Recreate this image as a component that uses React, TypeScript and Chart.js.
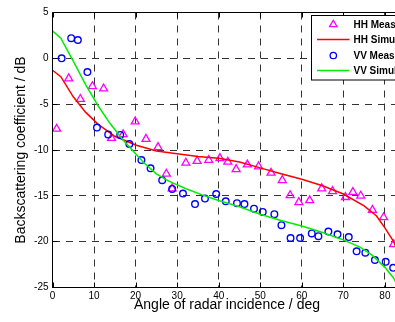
import { useEffect, useRef } from "react";
import { Chart, registerables } from "chart.js";

Chart.register(...registerables);

// ---- data ----
const hhMeasAngle = [1.0, 3.9, 6.7, 9.6, 12.3, 14.2, 17.0, 19.9, 22.5, 25.4, 27.4, 28.8, 32.1, 34.8, 37.6, 40.3, 42.2, 44.2, 46.9, 49.6, 52.6, 55.3, 57.2, 59.3, 61.9, 64.8, 67.4, 70.5, 72.3, 74.2, 77.0, 79.7, 82.1];
const hhMeasValue = [-7.7, -2.2, -4.45, -3.05, -3.3, -8.7, -8.3, -6.9, -8.8, -9.7, -12.6, -14.2, -11.4, -11.2, -11.1, -10.9, -11.3, -12.1, -11.6, -11.8, -12.5, -13.3, -14.95, -15.7, -15.5, -14.2, -14.5, -15.15, -14.6, -15.0, -16.55, -17.35, -20.3];

const hhSimAngle = [0, 2, 5, 8, 11, 15, 20, 25, 30, 35, 40, 45, 50, 55, 60, 65, 70, 75, 78, 80, 82, 84];
const hhSimValue = [-1.3, -2.0, -4.2, -5.9, -7.2, -8.5, -9.45, -10.1, -10.4, -10.7, -10.9, -11.3, -11.95, -12.6, -13.2, -13.9, -14.8, -16.1, -17.2, -18.5, -19.9, -22.0];

const vvMeasAngle = [2.2, 4.5, 6.1, 8.4, 10.7, 13.4, 16.3, 18.5, 21.4, 23.6, 26.4, 28.8, 31.4, 34.3, 36.7, 39.4, 41.7, 44.4, 46.2, 48.5, 50.6, 53.4, 55.1, 57.3, 59.6, 62.4, 64.0, 66.4, 68.6, 71.3, 73.2, 75.3, 77.6, 80.2, 82.0];
const vvMeasValue = [0.0, 2.2, 2.0, -1.5, -7.55, -8.3, -8.35, -9.35, -11.1, -12.0, -13.3, -14.25, -14.75, -15.9, -15.3, -14.8, -15.6, -15.8, -15.9, -16.4, -16.75, -17.0, -18.2, -19.6, -19.6, -19.1, -19.4, -18.9, -19.2, -19.5, -21.05, -21.2, -22.0, -22.2, -22.85];

const vvSimAngle = [0, 2, 5, 8, 11, 14, 17, 20, 22, 25, 28, 32, 36, 40, 45, 50, 55, 60, 65, 70, 74, 77, 80, 82, 84];
const vvSimValue = [3.0, 2.2, -0.3, -2.9, -5.2, -7.2, -8.9, -10.4, -11.4, -12.6, -13.4, -14.2, -14.9, -15.5, -16.2, -17.0, -17.7, -18.3, -19.0, -19.8, -20.6, -21.5, -22.8, -23.9, -25.5];

const xTicks = [0, 10, 20, 30, 40, 50, 60, 70, 80];
const yTicks = [5, 0, -5, -10, -15, -20, -25];

const legendLabels = ["HH Measured", "HH Simulated", "VV Measured", "VV Simulated"];

const MAGENTA = "#ff00ff";
const RED = "#ff0000";
const BLUE = "#0000ff";
const GREEN = "#00ee00";

const toPts = (xs: number[], ys: number[]) => xs.map((x, i) => ({ x, y: ys[i] }));

const CANVAS_W = 430;
const CANVAS_H = 322;

const framePlugin = {
  id: "frameAndLegend",
  afterDraw(chart: any) {
    const { ctx, chartArea, scales } = chart;
    const { left, top, right, bottom } = chartArea;
    ctx.save();
    ctx.setLineDash([]);
    ctx.strokeStyle = "#000";
    ctx.lineWidth = 1;
    ctx.beginPath();
    ctx.moveTo(left, bottom);
    ctx.lineTo(left, top);
    ctx.lineTo(right, top);
    ctx.lineTo(right, bottom);
    ctx.closePath();
    ctx.stroke();

    // inward tick marks
    const tl = 5;
    ctx.beginPath();
    xTicks.forEach((v) => {
      const px = Math.round(scales.x.getPixelForValue(v)) + 0.5;
      ctx.moveTo(px, bottom);
      ctx.lineTo(px, bottom - tl);
      ctx.moveTo(px, top);
      ctx.lineTo(px, top + tl);
    });
    yTicks.forEach((v) => {
      const py = Math.round(scales.y.getPixelForValue(v) - 0.5) + 0.5;
      ctx.moveTo(left, py);
      ctx.lineTo(left + tl, py);
    });
    ctx.stroke();

    // legend box
    const bx = 311.5;
    const by = 15.5;
    const bw = 140;
    const bh = 64.5;
    ctx.fillStyle = "#fff";
    ctx.fillRect(bx, by, bw, bh);
    ctx.strokeRect(bx, by, bw, bh);

    const rows = [24.5, 39.5, 55.5, 70.5];
    const mx = 333.3;
    ctx.font = "bold 10px Arial, 'Liberation Sans', sans-serif";
    ctx.textBaseline = "middle";
    ctx.textAlign = "left";
    rows.forEach((ry, i) => {
      ctx.lineWidth = 1.3;
      if (i === 0) {
        const r = 4.3;
        ctx.strokeStyle = MAGENTA;
        ctx.beginPath();
        ctx.moveTo(mx, ry - r);
        ctx.lineTo(mx + r * 0.866, ry + r / 2);
        ctx.lineTo(mx - r * 0.866, ry + r / 2);
        ctx.closePath();
        ctx.stroke();
      } else if (i === 2) {
        ctx.strokeStyle = BLUE;
        ctx.beginPath();
        ctx.arc(mx, ry, 3.2, 0, Math.PI * 2);
        ctx.stroke();
      } else {
        ctx.strokeStyle = i === 1 ? RED : GREEN;
        ctx.lineWidth = 1.5;
        ctx.beginPath();
        ctx.moveTo(317, ry);
        ctx.lineTo(349.5, ry);
        ctx.stroke();
      }
      ctx.fillStyle = "#000";
      ctx.fillText(legendLabels[i], 353.5, ry + 0.5);
    });
    ctx.restore();
  },
};

export default function App() {
  const ref = useRef<HTMLCanvasElement>(null);

  useEffect(() => {
    const canvas = ref.current;
    if (!canvas) return;
    const tickFont = { family: "Arial, 'Liberation Sans', sans-serif", size: 10 };
    const titleFont = { family: "Arial, 'Liberation Sans', sans-serif", size: 14 };
    const chart = new Chart(canvas, {
      type: "scatter",
      data: {
        datasets: [
          {
            label: legendLabels[0],
            data: toPts(hhMeasAngle, hhMeasValue),
            pointStyle: "triangle",
            pointRadius: 4.6,
            pointBorderWidth: 1.3,
            borderColor: MAGENTA,
            backgroundColor: "rgba(0,0,0,0)",
            showLine: false,
            order: 4,
          },
          {
            label: legendLabels[1],
            data: toPts(hhSimAngle, hhSimValue),
            showLine: true,
            pointRadius: 0,
            borderColor: RED,
            borderWidth: 1.5,
            backgroundColor: RED,
            order: 3,
          },
          {
            label: legendLabels[2],
            data: toPts(vvMeasAngle, vvMeasValue),
            pointStyle: "circle",
            pointRadius: 3.3,
            pointBorderWidth: 1.4,
            borderColor: BLUE,
            backgroundColor: "rgba(0,0,0,0)",
            showLine: false,
            order: 2,
          },
          {
            label: legendLabels[3],
            data: toPts(vvSimAngle, vvSimValue),
            showLine: true,
            pointRadius: 0,
            borderColor: GREEN,
            borderWidth: 1.5,
            backgroundColor: GREEN,
            order: 1,
          },
        ],
      },
      options: {
        responsive: false,
        animation: false,
        devicePixelRatio: 1,
        layout: { padding: { left: 0, top: 12.5, right: CANVAS_W - 401.5, bottom: 0 } },
        plugins: {
          legend: { display: false },
          tooltip: { enabled: false },
        },
        scales: {
          x: {
            type: "linear",
            min: 0,
            max: 84,
            afterBuildTicks: (scale: any) => {
              scale.ticks = xTicks.map((v) => ({ value: v }));
            },
            afterFit: (scale: any) => {
              scale.height = CANVAS_H - 287.5;
            },
            ticks: { color: "#000", font: tickFont, padding: 3, maxRotation: 0, autoSkip: false },
            grid: { color: "#333", lineWidth: 1, drawTicks: false },
            border: { display: false, dash: [7, 6] },
            title: {
              display: true,
              text: "Angle of radar incidence / deg",
              color: "#000",
              font: titleFont,
              padding: { top: 0, bottom: 8 },
            },
          },
          y: {
            type: "linear",
            min: -25,
            max: 5,
            afterBuildTicks: (scale: any) => {
              scale.ticks = yTicks.map((v) => ({ value: v }));
            },
            afterFit: (scale: any) => {
              scale.width = 52.5;
            },
            ticks: { color: "#000", font: tickFont, padding: 4, autoSkip: false },
            grid: { color: "#333", lineWidth: 1, drawTicks: false },
            border: { display: false, dash: [7, 6] },
            title: {
              display: true,
              text: "Backscattering coefficient / dB",
              color: "#000",
              font: titleFont,
              padding: { top: 13, bottom: 0 },
            },
          },
        },
      },
      plugins: [framePlugin],
    } as any);
    return () => chart.destroy();
  }, []);

  return (
    <div
      style={{
        position: "fixed",
        left: 0,
        top: 0,
        width: 395,
        height: 322,
        overflow: "hidden",
        background: "#fff",
      }}
    >
      <canvas
        ref={ref}
        width={CANVAS_W}
        height={CANVAS_H}
        style={{ display: "block", width: CANVAS_W, height: CANVAS_H }}
      />
    </div>
  );
}
